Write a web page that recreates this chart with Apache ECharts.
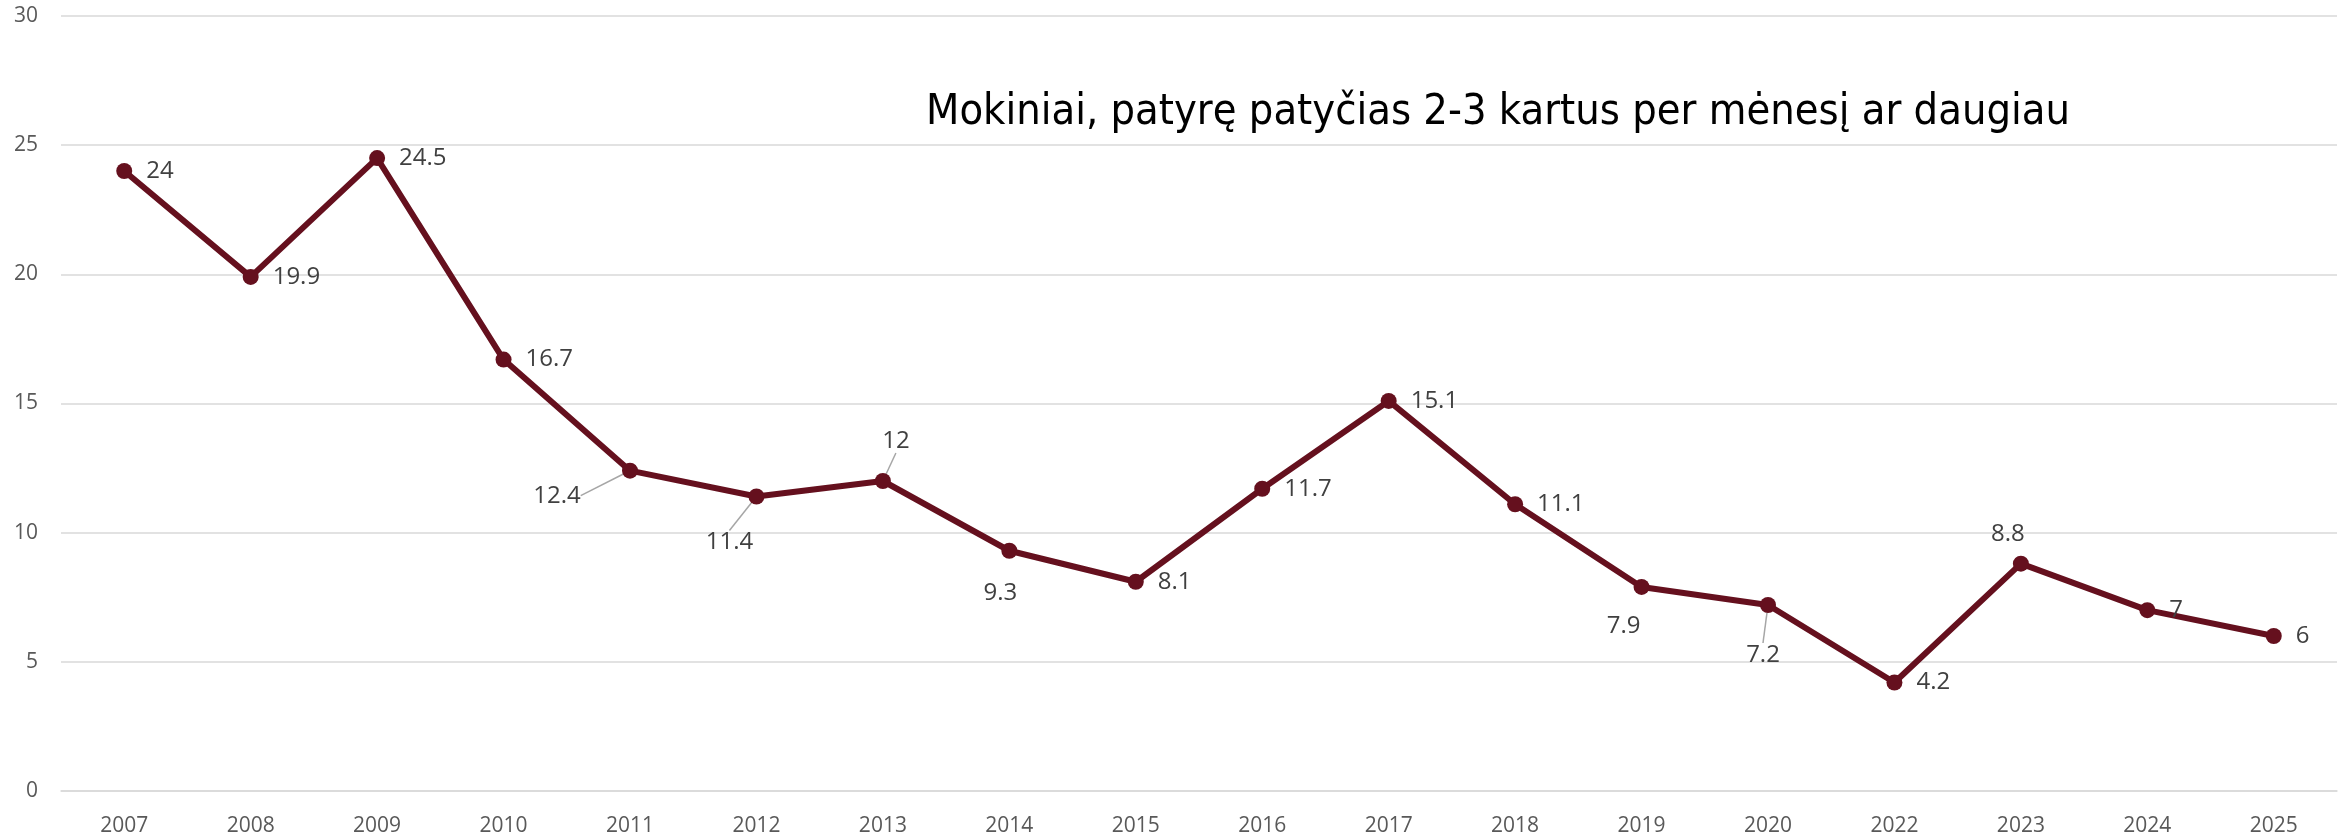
<!DOCTYPE html>
<html>
<head>
<meta charset="utf-8">
<script src="https://cdn.jsdelivr.net/npm/echarts@6/dist/echarts.min.js"></script>
<style>
html,body{margin:0;padding:0;background:#fff;}
#chart{width:2349px;height:837px;}
</style>
</head>
<body>
<div id="chart"></div>
<script>
const titleText = 'Mokiniai, patyrę patyčias 2-3 kartus per mėnesį ar daugiau';
const years = ['2007','2008','2009','2010','2011','2012','2013','2014','2015','2016','2017','2018','2019','2020','2022','2023','2024','2025'];
const values = [24, 19.9, 24.5, 16.7, 12.4, 11.4, 12, 9.3, 8.1, 11.7, 15.1, 11.1, 7.9, 7.2, 4.2, 8.8, 7, 6];
const yTicks = [0, 5, 10, 15, 20, 25, 30];

// label centre offset from the point: [dx, dy, leader line]
const labelShift = {
  4: [-73, 25, true],
  5: [-27, 46, true],
  6: [13, -40, true],
  7: [-9, 42, false],
  12: [-18, 39, false],
  13: [-5, 50, true],
  15: [-13, -30, false]
};

const chart = echarts.init(document.getElementById('chart'));
const lineColor = '#65101E';

chart.setOption({
  animation: false,
  title: {
    text: titleText,
    left: 1493,
    top: 108,
    textAlign: 'center',
    textVerticalAlign: 'middle',
    textStyle: {
      fontFamily: '"Liberation Sans Narrow", "DejaVu Sans Condensed", "Noto Sans", sans-serif',
      fontSize: 43,
      fontWeight: 'normal',
      color: '#000000'
    }
  },
  grid: { left: 61, right: 12, top: 16, bottom: 45 },
  xAxis: {
    type: 'category',
    data: years,
    boundaryGap: true,
    axisLine: { show: true, lineStyle: { color: '#d9d9d9', width: 1.5 } },
    axisTick: { show: false },
    axisLabel: { color: '#595959', fontSize: 21, margin: 25, fontFamily: '"Open Sans", sans-serif' }
  },
  yAxis: {
    type: 'value',
    min: yTicks[0],
    max: yTicks[yTicks.length - 1],
    interval: 5,
    axisLine: { show: false },
    axisTick: { show: false },
    splitLine: { lineStyle: { color: '#d9d9d9', width: 1.5 } },
    axisLabel: { color: '#595959', fontSize: 21, margin: 23, fontFamily: '"Open Sans", sans-serif' }
  },
  series: [{
    type: 'line',
    data: values.map((v, i) => {
      const item = { value: v };
      if (labelShift[i] && labelShift[i][2]) {
        item.labelLine = { show: true };
      }
      return item;
    }),
    symbol: 'circle',
    symbolSize: 16,
    itemStyle: { color: lineColor },
    lineStyle: { color: lineColor, width: 6 },
    label: {
      show: true,
      position: 'right',
      distance: 14,
      color: '#404040',
      fontSize: 24,
      fontFamily: '"Open Sans", sans-serif'
    },
    labelLine: {
      show: false,
      lineStyle: { color: '#a6a6a6', width: 1.5 }
    },
    labelLayout: function (params) {
      const s = labelShift[params.dataIndex];
      if (!s) return {};
      const px = params.rect.x + params.rect.width / 2;
      const py = params.rect.y + params.rect.height / 2;
      const lx = params.labelRect.x + params.labelRect.width / 2;
      const ly = params.labelRect.y + params.labelRect.height / 2;
      return { dx: px + s[0] - lx, dy: py + s[1] - ly };
    }
  }]
});
</script>
</body>
</html>
